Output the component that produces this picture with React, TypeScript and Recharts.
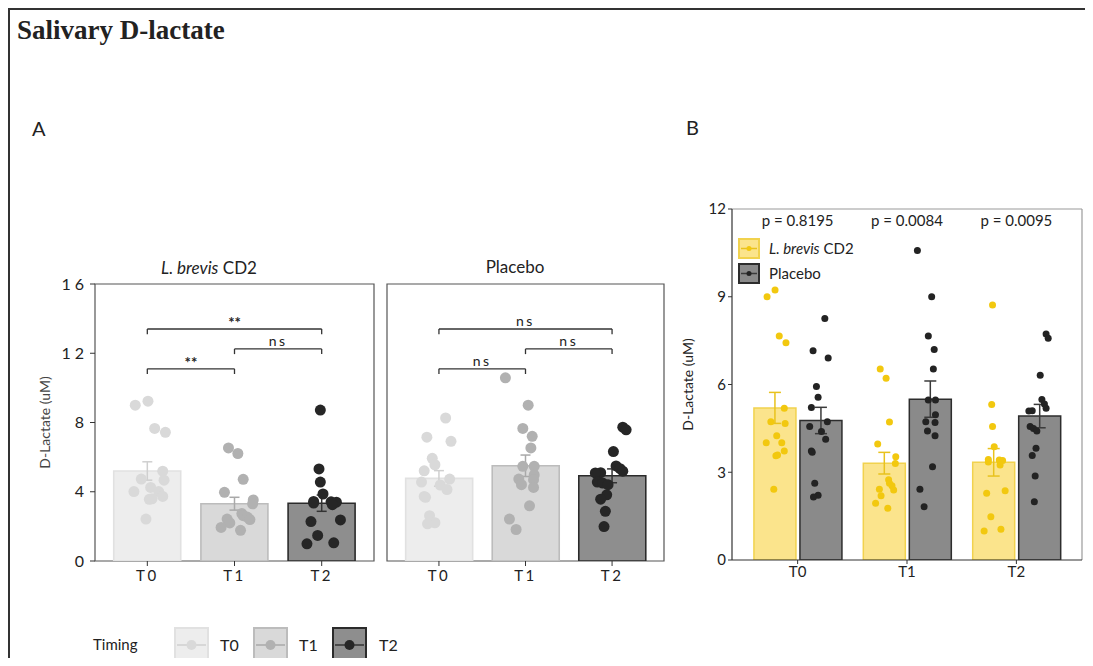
import React from "react";
import {
  Bar,
  Cell,
  ComposedChart,
  ErrorBar,
  ReferenceArea,
  ReferenceDot,
  ReferenceLine,
  Scatter,
  XAxis,
  YAxis,
} from "recharts";

// categories
const timepoints = ["T0", "T1", "T2"];
const groupNames = ["L. brevis CD2", "Placebo"];

// bar heights (mean) and standard errors
const lbrevisMeans = [5.2, 3.31, 3.34];
const lbrevisSe = [0.53, 0.37, 0.47];
const placeboMeans = [4.77, 5.5, 4.92];
const placeboSe = [0.45, 0.62, 0.4];

// individual subjects, with the jitter (fraction of bar width) seen in the figure
const lbrevisT0 = [9.0, 9.23, 7.66, 7.43, 5.19, 4.73, 4.67, 4.25, 4.01, 4.01, 3.73, 3.56, 3.59, 2.42];
const lbrevisT0Jit = [-0.18, 0.01, 0.11, 0.27, 0.23, -0.09, 0.25, 0.05, -0.2, 0.17, 0.23, 0.03, 0.07, -0.02];
const lbrevisT1 = [6.53, 6.21, 4.72, 3.97, 3.53, 3.3, 2.74, 2.62, 2.54, 2.42, 2.39, 2.2, 1.94, 1.77];
const lbrevisT1Jit = [-0.09, 0.05, 0.13, -0.15, 0.28, 0.27, 0.11, 0.13, 0.19, -0.11, 0.23, -0.07, -0.2, 0.09];
const lbrevisT2 = [8.72, 5.32, 4.56, 3.87, 3.44, 3.42, 3.4, 3.35, 3.25, 2.28, 2.37, 1.48, 0.99, 1.05];
const lbrevisT2Jit = [-0.02, -0.04, -0.02, 0.02, -0.12, 0.14, 0.22, -0.12, 0.16, -0.16, 0.28, -0.06, -0.22, 0.18];

const placeboT0 = [8.26, 7.15, 6.91, 5.93, 5.56, 5.21, 4.73, 4.56, 4.39, 4.13, 3.73, 3.68, 2.62, 2.21, 2.15];
const placeboT0Jit = [0.1, -0.18, 0.18, -0.1, -0.06, -0.22, 0.16, -0.26, 0.02, 0.12, -0.22, -0.2, -0.14, -0.06, -0.17];
const placeboT1 = [10.58, 9.0, 7.66, 7.2, 6.53, 5.47, 5.47, 4.97, 4.73, 4.7, 4.41, 4.25, 3.19, 2.42, 1.82];
const placeboT1Jit = [-0.3, 0.04, -0.04, 0.1, 0.08, -0.04, 0.13, 0.13, -0.1, 0.12, -0.06, 0.12, 0.06, -0.24, -0.14];
const placeboT2 = [7.73, 7.58, 6.32, 5.49, 5.33, 5.19, 5.1, 5.09, 4.56, 4.5, 4.41, 3.82, 3.57, 2.87, 1.99];
const placeboT2Jit = [0.16, 0.21, 0.02, 0.06, 0.12, 0.16, -0.17, -0.25, -0.22, -0.14, -0.06, -0.08, -0.17, -0.1, -0.12];

// significance brackets (panel A) and p values (panel B)
const bracketsLbrevis = [
  { from: 1, to: 3, y: 13.4, label: "**" },
  { from: 2, to: 3, y: 12.25, label: "ns" },
  { from: 1, to: 2, y: 11.1, label: "**" },
];
const bracketsPlacebo = [
  { from: 1, to: 3, y: 13.4, label: "ns" },
  { from: 2, to: 3, y: 12.25, label: "ns" },
  { from: 1, to: 2, y: 11.1, label: "ns" },
];
const pValues = ["p = 0.8195", "p = 0.0084", "p = 0.0095"];

const yTicksA = [0, 4, 8, 12, 16];
const yTicksB = [0, 3, 6, 9, 12];

// colours
const timingFill = ["#ededed", "#d9d9d9", "#8e8e8e"];
const timingStroke = ["#e1e1e1", "#bcbcbc", "#2b2b2b"];
const timingPoint = ["#d9d9d9", "#b1b1b1", "#262626"];
const timingErr = ["#cfcfcf", "#a9a9a9", "#333333"];
const groupFill = ["#fbe48c", "#8a8a8a"];
const groupStroke = ["#f1d24e", "#2d2d2d"];
const groupPoint = ["#f2c80f", "#232323"];
const groupErr = ["#e8c21d", "#3a3a3a"];

const FONT = "Lato, 'Open Sans', sans-serif";

type Bracket = { from: number; to: number; y: number; label: string };

function FacetA({
  means,
  ses,
  points,
  jitters,
  brackets,
  withAxis,
  width,
}: {
  means: number[];
  ses: number[];
  points: number[][];
  jitters: number[][];
  brackets: Bracket[];
  withAxis: boolean;
  width: number;
}) {
  const yAxisW = withAxis ? 75 : 0;
  const mLeft = withAxis ? 0 : 2;
  const plotW = width - yAxisW - mLeft - 2;
  const pad = plotW / 32;
  const band = (plotW - 2 * pad) / 3;
  const barPx = 67;
  const barUnits = barPx / band;
  const cap = 5 / band;
  const data = timepoints.map((t, i) => ({ name: t, mean: means[i] }));

  return (
    <ComposedChart
      width={width}
      height={341}
      data={data}
      margin={{ top: 34, right: 2, bottom: 0, left: mLeft }}
    >
      <XAxis
        xAxisId="cat"
        dataKey="name"
        type="category"
        padding={{ left: pad, right: pad }}
        axisLine={false}
        tickLine={{ stroke: "#333" }}
        tickSize={5}
        tickMargin={4}
        interval={0}
        tick={{ fontSize: 15, fill: "#222", letterSpacing: 2.5 }}
      />
      <XAxis xAxisId="num" dataKey="x" type="number" domain={[0.4, 3.6]} allowDataOverflow hide />
      <YAxis
        domain={[0, 16]}
        ticks={yTicksA}
        allowDataOverflow
        width={yAxisW}
        hide={!withAxis}
        axisLine={false}
        tickLine={{ stroke: "#333" }}
        tickSize={5}
        tick={{ fontSize: 16, fill: "#222", letterSpacing: 4 }}
        label={{
          value: "D-Lactate (uM)",
          angle: -90,
          position: "insideLeft",
          offset: 25,
          style: { textAnchor: "middle" },
          fontSize: 14,
          fill: "#444",
        }}
      />
      <ReferenceArea
        xAxisId="num"
        x1={0.4}
        x2={3.6}
        y1={0}
        y2={16}
        fill="none"
        stroke="#555"
        strokeWidth={1.2}
        ifOverflow="visible"
      />
      <Bar xAxisId="cat" dataKey="mean" barSize={barPx} isAnimationActive={false}>
        {timepoints.map((t, i) => (
          <Cell key={t} fill={timingFill[i]} stroke={timingStroke[i]} strokeWidth={1.6} />
        ))}
      </Bar>
      {means.map((m, i) => {
        const lo = m - ses[i];
        const hi = m + ses[i];
        return [
          <ReferenceLine key={`ev${i}`} xAxisId="num" segment={[{ x: i + 1, y: lo }, { x: i + 1, y: hi }]} stroke={timingErr[i]} strokeWidth={1.5} />,
          <ReferenceLine key={`et${i}`} xAxisId="num" segment={[{ x: i + 1 - cap, y: hi }, { x: i + 1 + cap, y: hi }]} stroke={timingErr[i]} strokeWidth={1.5} />,
          <ReferenceLine key={`eb${i}`} xAxisId="num" segment={[{ x: i + 1 - cap, y: lo }, { x: i + 1 + cap, y: lo }]} stroke={timingErr[i]} strokeWidth={1.5} />,
        ];
      })}
      {points.map((vals, i) => (
        <Scatter
          key={`s${i}`}
          xAxisId="num"
          dataKey="y"
          data={vals.map((v, k) => ({ x: i + 1 + jitters[i][k] * barUnits, y: v }))}
          isAnimationActive={false}
          shape={(p: any) => <circle cx={p.cx} cy={p.cy} r={5.5} fill={timingPoint[i]} />}
        />
      ))}
      {brackets.map((b, k) => [
        <ReferenceLine key={`bh${k}`} xAxisId="num" segment={[{ x: b.from, y: b.y }, { x: b.to, y: b.y }]} stroke="#333" strokeWidth={1.3} />,
        <ReferenceLine key={`bl${k}`} xAxisId="num" segment={[{ x: b.from, y: b.y }, { x: b.from, y: b.y - 0.3 }]} stroke="#333" strokeWidth={1.3} />,
        <ReferenceLine key={`br${k}`} xAxisId="num" segment={[{ x: b.to, y: b.y }, { x: b.to, y: b.y - 0.3 }]} stroke="#333" strokeWidth={1.3} />,
        <ReferenceDot
          key={`bt${k}`}
          xAxisId="num"
          x={(b.from + b.to) / 2}
          y={b.y}
          r={0}
          fill="none"
          stroke="none"
          label={{
            value: b.label,
            position: "top",
            offset: b.label === "ns" ? 3 : 1,
            fontSize: b.label === "ns" ? 14 : 15,
            fontWeight: b.label === "ns" ? "normal" : "bold",
            fill: "#222",
            letterSpacing: b.label === "ns" ? 2.5 : 0,
          }}
        />,
      ])}
    </ComposedChart>
  );
}

function PanelB() {
  const width = 414;
  const yAxisW = 60;
  const plotW = width - yAxisW - 4;
  const pad = plotW / 32;
  const band = (plotW - 2 * pad) / 3;
  const barPx = 42;
  const gapPx = 4;
  const dodge = (barPx + gapPx) / 2 / band;
  const barUnits = barPx / band;
  const data = timepoints.map((t, i) => ({
    name: t,
    lb: lbrevisMeans[i],
    lbSe: lbrevisSe[i],
    pl: placeboMeans[i],
    plSe: placeboSe[i],
  }));
  const groups = [
    { vals: [lbrevisT0, lbrevisT1, lbrevisT2], jit: [lbrevisT0Jit, lbrevisT1Jit, lbrevisT2Jit], shift: -dodge },
    { vals: [placeboT0, placeboT1, placeboT2], jit: [placeboT0Jit, placeboT1Jit, placeboT2Jit], shift: dodge },
  ];

  return (
    <ComposedChart
      width={width}
      height={395}
      data={data}
      barGap={gapPx}
      margin={{ top: 14, right: 4, bottom: 0, left: 0 }}
    >
      <XAxis
        xAxisId="cat"
        dataKey="name"
        type="category"
        padding={{ left: pad, right: pad }}
        axisLine={{ stroke: "#333", strokeWidth: 1.2 }}
        tickLine={{ stroke: "#333" }}
        tickSize={4}
        tickMargin={2}
        interval={0}
        tick={{ fontSize: 15, fill: "#222" }}
      />
      <XAxis xAxisId="num" dataKey="x" type="number" domain={[0.4, 3.6]} allowDataOverflow hide />
      <YAxis
        domain={[0, 12]}
        ticks={yTicksB}
        allowDataOverflow
        width={yAxisW}
        axisLine={{ stroke: "#333", strokeWidth: 1.2 }}
        tickLine={{ stroke: "#333" }}
        tickSize={4}
        tickMargin={2}
        tick={{ fontSize: 15, fill: "#222" }}
        label={{
          value: "D-Lactate (uM)",
          angle: -90,
          position: "insideLeft",
          offset: 16,
          style: { textAnchor: "middle" },
          fontSize: 14,
          fill: "#222",
        }}
      />
      <ReferenceLine y={12} stroke="#9a9a9a" strokeWidth={1.2} />
      <ReferenceLine xAxisId="num" x={3.6} stroke="#9a9a9a" strokeWidth={1.2} ifOverflow="visible" />
      <Bar xAxisId="cat" dataKey="lb" name={groupNames[0]} barSize={barPx} fill={groupFill[0]} stroke={groupStroke[0]} strokeWidth={1.5} isAnimationActive={false}>
        <ErrorBar dataKey="lbSe" width={6} stroke={groupErr[0]} strokeWidth={1.5} direction="y" />
      </Bar>
      <Bar xAxisId="cat" dataKey="pl" name={groupNames[1]} barSize={barPx} fill={groupFill[1]} stroke={groupStroke[1]} strokeWidth={1.5} isAnimationActive={false}>
        <ErrorBar dataKey="plSe" width={6} stroke={groupErr[1]} strokeWidth={1.5} direction="y" />
      </Bar>
      {groups.map((g, gi) =>
        g.vals.map((vals, i) => (
          <Scatter
            key={`p${gi}${i}`}
            xAxisId="num"
            dataKey="y"
            data={vals.map((v, k) => ({ x: i + 1 + g.shift + g.jit[i][k] * barUnits, y: v }))}
            isAnimationActive={false}
            shape={(p: any) => <circle cx={p.cx} cy={p.cy} r={3.5} fill={groupPoint[gi]} />}
          />
        ))
      )}
      {pValues.map((p, i) => (
        <ReferenceDot
          key={p}
          xAxisId="num"
          x={i + 1}
          y={11.6}
          r={0}
          fill="none"
          stroke="none"
          label={{ value: p, position: "center", fontSize: 15, fill: "#222" }}
        />
      ))}
    </ComposedChart>
  );
}

function KeyBox({ fill, stroke, dot, line, size, r }: { fill: string; stroke: string; dot: string; line: string; size: number[]; r: number }) {
  const [w, h] = size;
  return (
    <svg width={w} height={h} style={{ display: "block" }}>
      <rect x={1} y={1} width={w - 2} height={h - 2} fill={fill} stroke={stroke} strokeWidth={2} />
      <line x1={3} x2={w - 3} y1={h / 2} y2={h / 2} stroke={line} strokeWidth={1.5} />
      <circle cx={w / 2} cy={h / 2} r={r} fill={dot} />
    </svg>
  );
}

export default function App() {
  const abs = (left: number, top: number): React.CSSProperties => ({ position: "absolute", left: left - 8, top: top - 8 });
  const timingKeyX = [174, 253, 332];
  const timingLabelX = [220, 299, 379];

  return (
    <div style={{ position: "relative", width: 1085, height: 650, fontFamily: FONT, color: "#222" }}>
      <div
        style={{
          position: "absolute",
          left: 0,
          top: 0,
          width: 1085,
          height: 650,
          boxSizing: "border-box",
          borderLeft: "2px solid #333",
          borderTop: "2px solid #333",
        }}
      />
      <div style={{ ...abs(17, 17), fontFamily: "'Liberation Serif', serif", fontWeight: "bold", fontSize: 27, lineHeight: 1 }}>
        Salivary D-lactate
      </div>
      <div style={{ ...abs(32, 118), fontSize: 20, lineHeight: 1 }}>A</div>
      <div style={{ ...abs(686, 117), fontSize: 20, lineHeight: 1 }}>B</div>

      <div style={{ ...abs(109, 259), width: 200, textAlign: "center", fontSize: 17, lineHeight: 1 }}>
        <i>L. brevis</i> CD2
      </div>
      <div style={{ ...abs(415, 258), width: 200, textAlign: "center", fontSize: 17, lineHeight: 1 }}>
        {groupNames[1]}
      </div>

      <div style={abs(20, 250)}>
        <FacetA
          means={lbrevisMeans}
          ses={lbrevisSe}
          points={[lbrevisT0, lbrevisT1, lbrevisT2]}
          jitters={[lbrevisT0Jit, lbrevisT1Jit, lbrevisT2Jit]}
          brackets={bracketsLbrevis}
          withAxis
          width={356}
        />
      </div>
      <div style={abs(385, 250)}>
        <FacetA
          means={placeboMeans}
          ses={placeboSe}
          points={[placeboT0, placeboT1, placeboT2]}
          jitters={[placeboT0Jit, placeboT1Jit, placeboT2Jit]}
          brackets={bracketsPlacebo}
          withAxis={false}
          width={281}
        />
      </div>

      <div style={{ ...abs(93, 637), fontSize: 15, lineHeight: 1 }}>Timing</div>
      {timepoints.map((t, i) => (
        <React.Fragment key={t}>
          <div style={abs(timingKeyX[i], 627)}>
            <KeyBox fill={timingFill[i]} stroke={timingStroke[i]} dot={timingPoint[i]} line={timingErr[i]} size={[35, 36]} r={5} />
          </div>
          <div style={{ ...abs(timingLabelX[i], 637), fontSize: 16, lineHeight: 1 }}>{t}</div>
        </React.Fragment>
      ))}

      <div style={abs(672, 195)}>
        <PanelB />
      </div>

      {groupNames.map((g, i) => (
        <div key={g} style={{ ...abs(738, 238 + i * 25), display: "flex", alignItems: "center", gap: 9 }}>
          <KeyBox fill={groupFill[i]} stroke={groupStroke[i]} dot={groupPoint[i]} line={groupErr[i]} size={[22, 21]} r={2.5} />
          <span style={{ fontSize: 15, lineHeight: 1 }}>
            {i === 0 ? (
              <>
                <i>L. brevis</i> CD2
              </>
            ) : (
              g
            )}
          </span>
        </div>
      ))}
    </div>
  );
}
